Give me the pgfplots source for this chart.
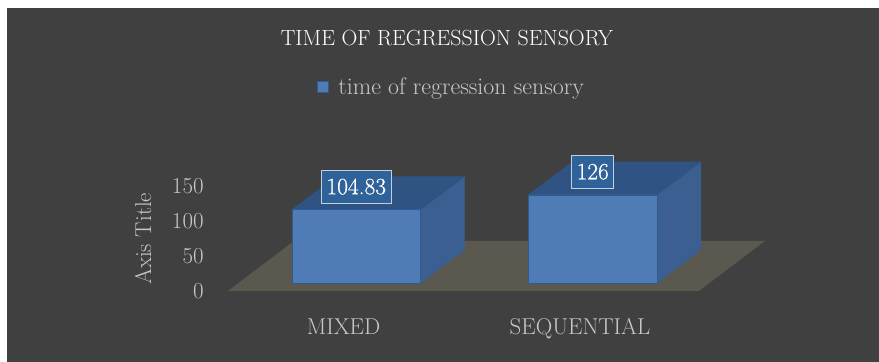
\documentclass[border=0pt]{standalone}
\usepackage{pgfplots}
\pgfplotsset{compat=1.18}
\usepackage{fontspec}
\setmainfont{Latin Modern Roman}
\newfontfamily\labfont[FakeBold=0.6]{Latin Modern Roman}
\definecolor{panel}{HTML}{404040}
\definecolor{floorc}{HTML}{5B5850}
\definecolor{front}{HTML}{4F7CB5}
\definecolor{topf}{HTML}{2F5483}
\definecolor{sidef}{HTML}{3A5F90}
\definecolor{edgec}{HTML}{2F5A92}
\definecolor{lab}{HTML}{2E6298}
\definecolor{txt}{HTML}{C8C8C8}
\begin{document}
\begin{tikzpicture}
% axis A: panel, floor, value axis
\begin{axis}[
  at={(0,0)},anchor=south west,
  x=1bp,y=0.7bp,scale only axis,
  xmin=0,xmax=879,ymin=-101.43,ymax=415.71,
  axis line style={draw=none},
  axis on top,
  xtick=\empty,
  ytick={0,50,100,150},
  major tick length=0pt,
  tick label style={font=\fontsize{23}{23}\selectfont,text=txt},
  /pgf/number format/assume math mode=true,
  clip=false,
  axis background/.style={fill=white},
  yticklabel style={anchor=east,xshift=207bp},
]
\addplot[draw=none,fill=panel] coordinates {(7,404.3) (879,404.3) (879,-101.43) (7,-101.43)} --cycle;
\addplot[draw=none,fill=floorc] coordinates {(228,0) (699,0) (765,71.4) (294,71.4)} --cycle;
\end{axis}
% axis B: bars, bar base on the floor
\begin{axis}[
  at={(0,0)},anchor=south west,
  x=1bp,y=0.7bp,scale only axis,
  xmin=0,xmax=879,ymin=-112.86,ymax=404.29,
  hide axis,clip=false,
  legend style={draw=none,fill=none,at={(0.3606,0.76)},anchor=west,text=txt,font=\fontsize{24}{24}\selectfont,inner sep=0pt},
]
\addplot[draw=sidef,fill=sidef,forget plot] coordinates {(420.5,0) (464.5,47.1) (464.5,151.93) (420.5,104.83)} --cycle;
\addplot[draw=topf,fill=topf,forget plot] coordinates {(292,104.83) (336,151.93) (464.5,151.93) (420.5,104.83)} --cycle;
\addplot[draw=sidef,fill=sidef,forget plot] coordinates {(657,0) (701,47.1) (701,173.1) (657,126)} --cycle;
\addplot[draw=topf,fill=topf,forget plot] coordinates {(528.5,126) (572.5,173.1) (701,173.1) (657,126)} --cycle;
\addplot[ybar,bar width=128.5bp,draw=edgec,fill=front,
  legend image code/.code={\path[draw=none,fill=none] (0bp,0bp) rectangle (19bp,0bp);\draw[draw=edgec,fill=front] (0bp,-5.5bp) rectangle (11bp,5.5bp);},
  nodes near coords,
  point meta=y,
  every node near coord/.style={anchor=center,yshift=23bp,fill=lab,draw=white!70!lab,line width=0.7pt,text=white,inner xsep=5pt,inner ysep=0pt,minimum height=33bp,font=\labfont\fontsize{23.5}{23.5}\selectfont,/pgf/number format/assume math mode=true,/pgf/number format/fixed,/pgf/number format/precision=2},
] coordinates {(356.25,104.83) (592.75,126)};
\addlegendentry{time of regression sensory}
\node[text=white,font=\fontsize{22}{22}\selectfont] at (axis cs:447,350) {TIME OF REGRESSION SENSORY};
\node[text=txt,rotate=90,font=\fontsize{23}{23}\selectfont] at (axis cs:143,63) {Axis Title};
\node[text=txt,anchor=base,font=\fontsize{23}{23}\selectfont] at (axis cs:343.5,-73) {MIXED};
\node[text=txt,anchor=base,font=\fontsize{23}{23}\selectfont] at (axis cs:580,-73) {SEQUENTIAL};
\end{axis}
\end{tikzpicture}
\end{document}
